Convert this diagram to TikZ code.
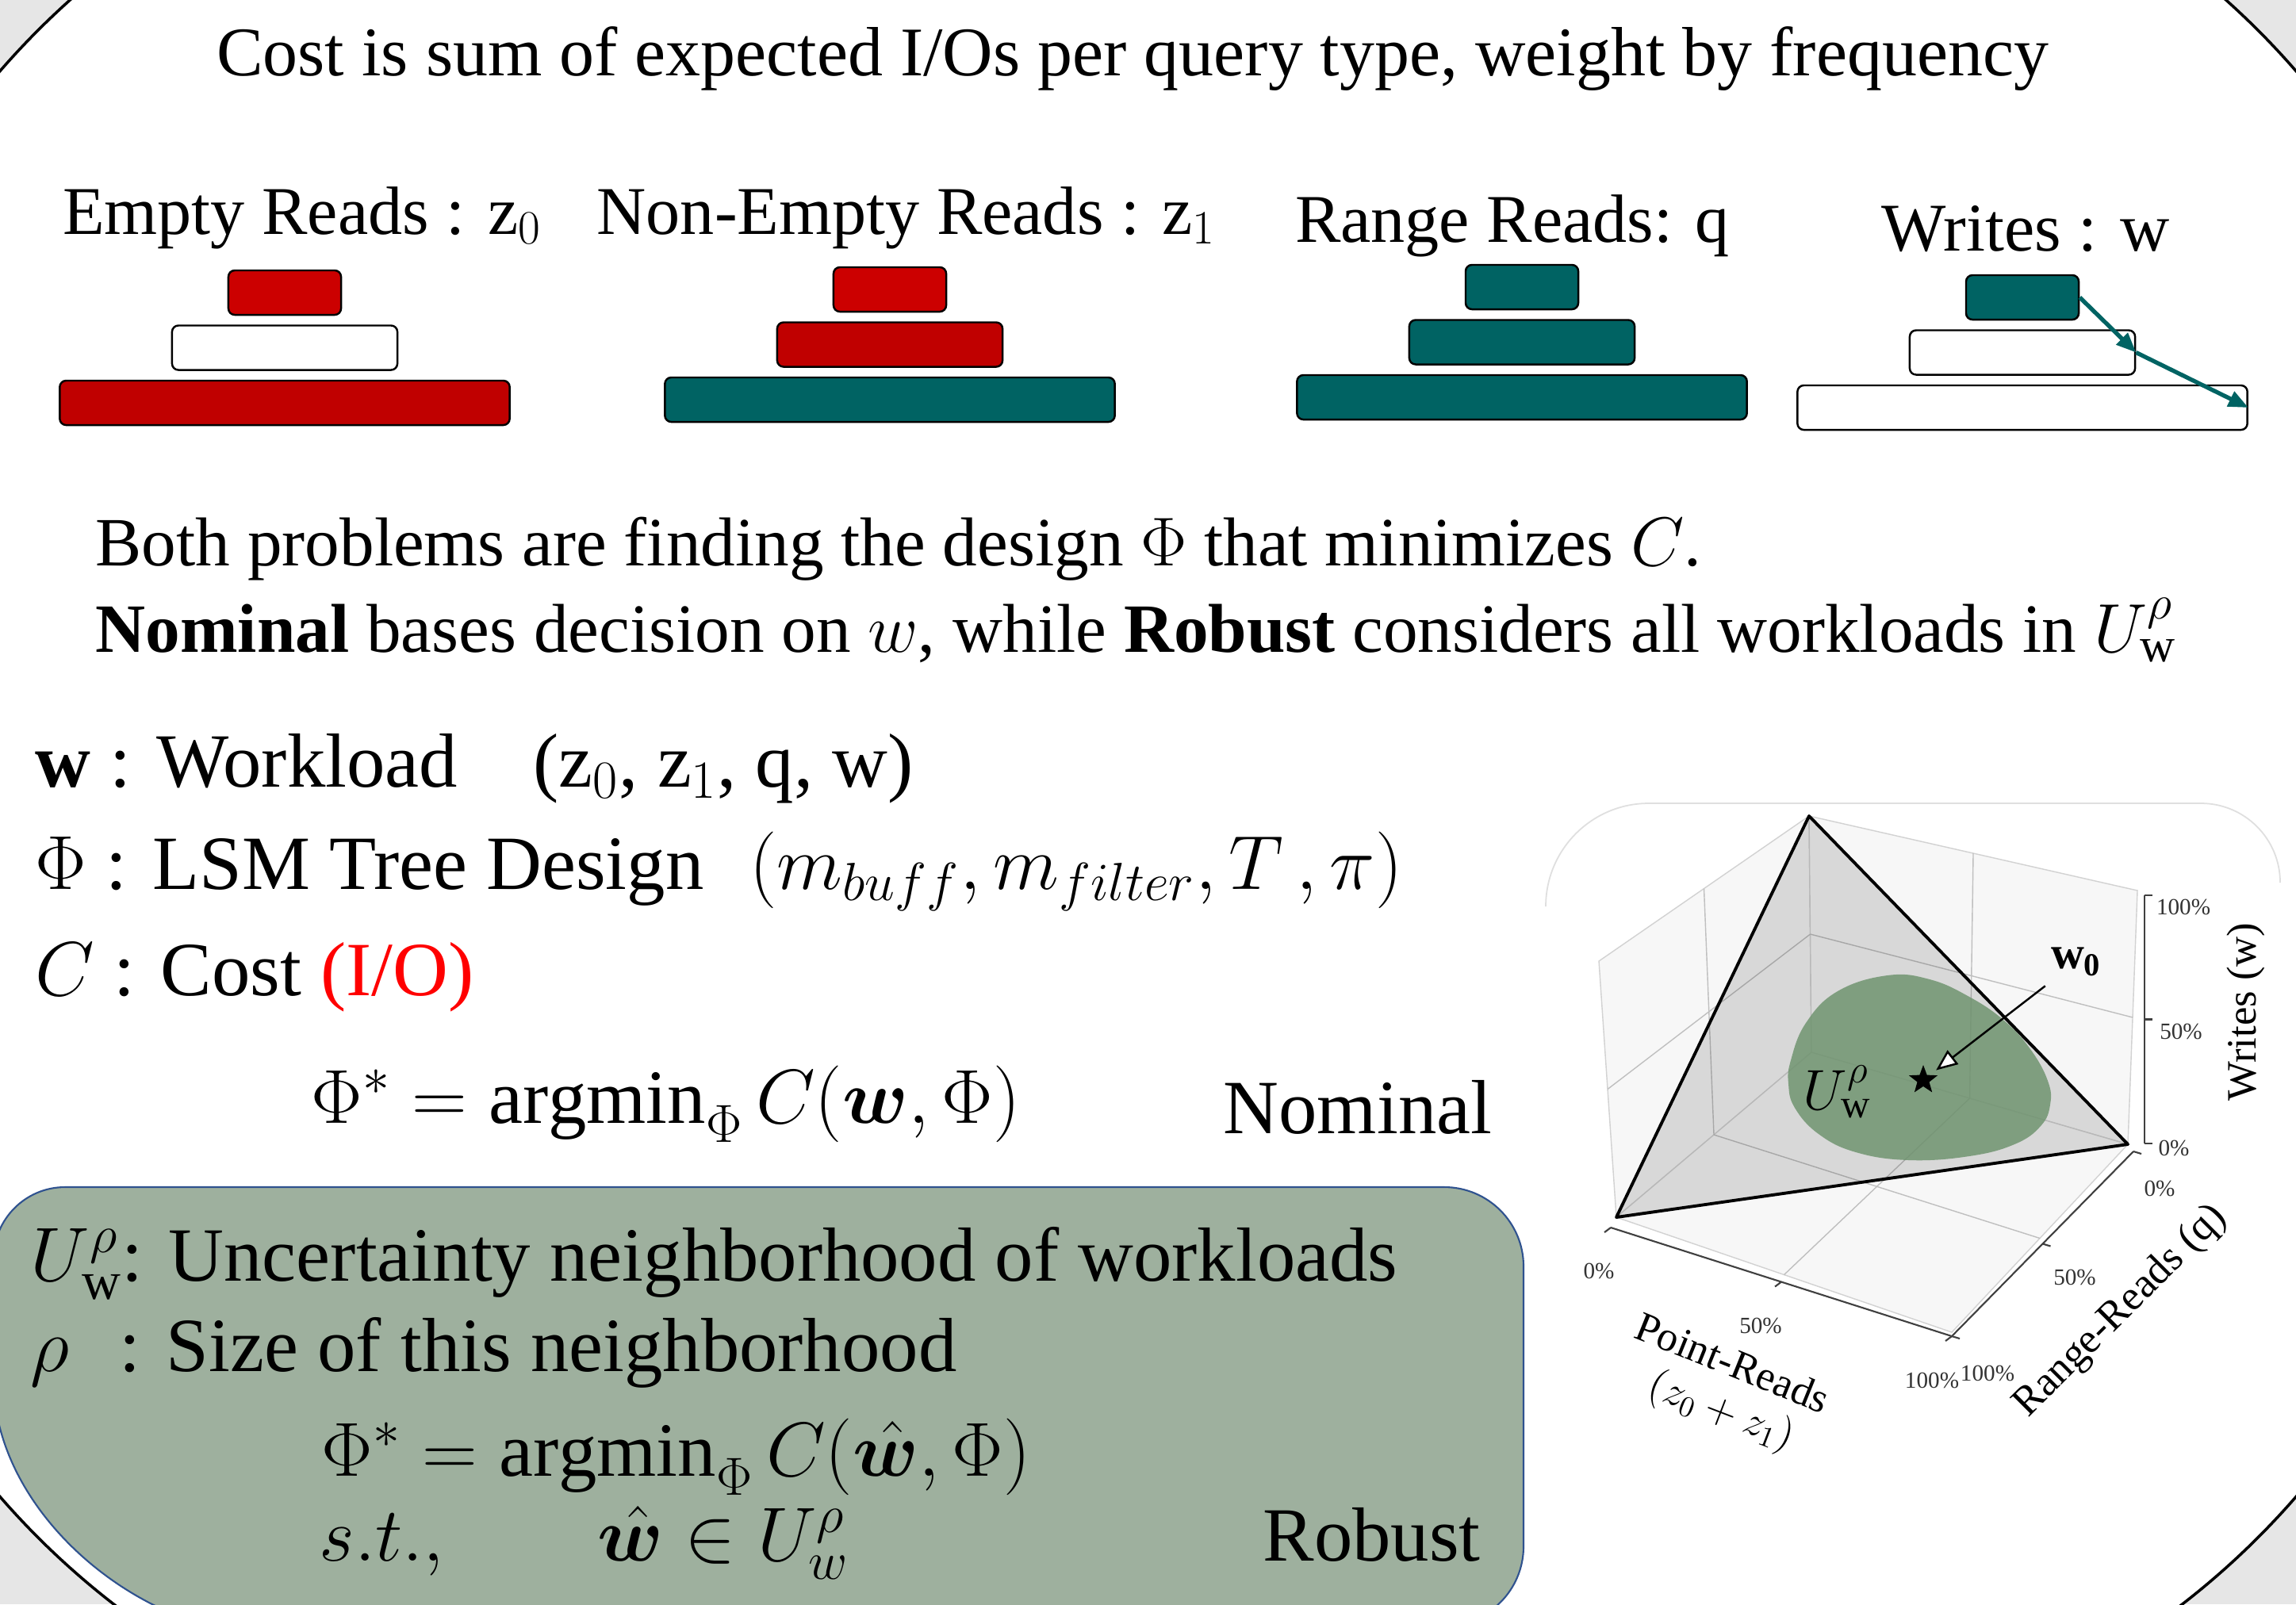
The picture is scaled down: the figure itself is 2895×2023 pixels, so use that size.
\RequirePackage{fix-cm}
\documentclass[tikz,border=0pt]{standalone}
\usepackage{fontspec}
\setmainfont{Liberation Serif}
\usepackage{amsmath,bm}
\usetikzlibrary{positioning,calc,arrows.meta,shapes.geometric}

\definecolor{bggray}{RGB}{230,230,230}
\definecolor{redtop}{RGB}{204,0,0}
\definecolor{reddark}{RGB}{192,0,0}
\definecolor{lsmteal}{RGB}{0,99,99}
\definecolor{boxgreen}{RGB}{158,176,158}
\definecolor{boxedge}{RGB}{47,82,143}
\definecolor{blobgreen}{RGB}{112,148,112}

\newcommand{\titlesz}{\fontsize{25}{30}\selectfont}
\newcommand{\labsz}{\fontsize{24.5}{29}\selectfont}
\newcommand{\midsz}{\fontsize{24.8}{29}\selectfont}
\newcommand{\colsz}{\fontsize{27.5}{33}\selectfont}
\newcommand{\axsz}{\fontsize{15}{18}\selectfont}
\newcommand{\ticksz}{\fontsize{8.3}{10}\selectfont}

\tikzset{
  lvl/.style={draw=black, line width=0.7pt, rounded corners=0.08cm, inner sep=0pt, minimum height=0.56cm},
  lvlone/.style={lvl, minimum width=1.42cm},
  lvltwo/.style={lvl, minimum width=2.84cm},
  lvlthree/.style={lvl, minimum width=5.67cm},
  txt/.style={inner sep=0pt, anchor=base west},
  nbox/.style={fill=boxgreen, draw=boxedge, line width=0.6pt},
  pane/.style={fill=gray!6, draw=gray!35, line width=0.4pt},
  gridln/.style={gray!50, line width=0.4pt},
  axln/.style={black!75, line width=0.6pt},
  ticklbl/.style={font=\ticksz, inner sep=1pt, text=black!80},
  axlbl/.style={font=\axsz, inner sep=1pt},
  wrarrow/.style={lsmteal, line width=1.5pt, -{Triangle[length=0.25cm,width=0.2cm]}},
}

\begin{document}
\begin{tikzpicture}[x=0.01cm,y=0.01cm]
\useasboundingbox (0,0) rectangle (2895,-2023);
\fill[bggray] (0,0) rectangle (2895,-2023);
\begin{scope}
\clip (0,0) rectangle (2895,-2023);
\draw[fill=white, line width=1pt, rounded corners=10cm] (-245,255) rectangle (3140,-2232);

\node[font=\titlesz, anchor=base] (title) at (1428,-95) {Cost is sum of expected I/Os per query type, weight by frequency};

\node[font=\labsz, anchor=base] (lab1) at (381,-295) {Empty Reads : z$_0$};
\node[font=\labsz, anchor=base] (lab2) at (1143,-295) {Non-Empty Reads : z$_1$};
\node[font=\labsz, anchor=base] (lab3) at (1907,-305) {Range Reads: q};
\node[font=\labsz, anchor=base] (lab4) at (2554,-316) {Writes : w};

\node[lvlone, fill=redtop] (e1) at (359,-369) {};
\node[lvltwo, fill=white, below=0.11cm of e1] (e2) {};
\node[lvlthree, fill=reddark, below=0.11cm of e2] (e3) {};

\node[lvlone, fill=redtop] (n1) at (1122,-365) {};
\node[lvltwo, fill=reddark, below=0.11cm of n1] (n2) {};
\node[lvlthree, fill=lsmteal, below=0.11cm of n2] (n3) {};

\node[lvlone, fill=lsmteal] (r1) at (1919,-362) {};
\node[lvltwo, fill=lsmteal, below=0.11cm of r1] (r2) {};
\node[lvlthree, fill=lsmteal, below=0.11cm of r2] (r3) {};

\node[lvlone, fill=lsmteal] (w1) at (2550,-375) {};
\node[lvltwo, fill=white, below=0.11cm of w1] (w2) {};
\node[lvlthree, fill=white, below=0.11cm of w2] (w3) {};
\draw[wrarrow] (w1.east) -- (w2.east);
\draw[wrarrow] (w2.east) -- (w3.east);

\node[txt, font=\midsz] (both) at (120,-713) {Both problems are finding the design $\Phi$ that minimizes $C$.};
\node[txt, font=\midsz] (nomrob) at (120,-822) {\textbf{Nominal} bases decision on $w$, while \textbf{Robust} considers all workloads in $U_{\mathrm{w}}^{\rho}$};

\node[txt, font=\colsz] (wl) at (44,-992) {\textbf{w} : Workload};
\node[txt, font=\colsz] (wtup) at (672,-992) {(z$_0$, z$_1$, q, w)};
\node[txt, font=\colsz] (phil) at (44,-1121) {$\Phi$ : LSM Tree Design};
\node[txt, font=\colsz] (phitup) at (945,-1121) {$(m_{buff}, m_{filter}, T\,, \pi)$};
\node[txt, font=\colsz] (cl) at (44,-1255) {$C$ : Cost \textcolor{red}{(I/O)}};
\node[txt, font=\colsz] (nomeq) at (392,-1416) {$\Phi^{*} = \operatorname{argmin}_{\Phi} C(\bm{w},\Phi)$};
\node[txt, font=\colsz] (nom) at (1542,-1429) {Nominal};

\draw[nbox] (-8,-1740) -- (-8,-1587) arc[start angle=180, end angle=90, radius=90]
  -- (1821,-1497) arc[start angle=90, end angle=0, radius=100]
  -- (1921,-1950) arc[start angle=0, end angle=-90, radius=100]
  -- (260,-2050) .. controls (120,-2010) and (-8,-1880) .. cycle;
\node[txt, font=\colsz] (ul) at (38,-1615) {$U_{\mathrm{w}}^{\rho}$: Uncertainty neighborhood of workloads};
\node[txt, font=\colsz] (rhol) at (38,-1729) {$\rho$};
\node[txt, font=\colsz] (rhot) at (150,-1729) {: Size of this neighborhood};
\node[txt, font=\colsz] (robeq) at (405,-1861) {$\Phi^{*} = \operatorname{argmin}_{\Phi} C(\hat{\bm{w}},\Phi)$};
\node[txt, font=\colsz] (st) at (402,-1968) {$s.t.,$};
\node[txt, font=\colsz] (inu) at (753,-1968) {$\hat{\bm{w}} \in U_{w}^{\rho}$};
\node[txt, font=\colsz] (rob) at (1592,-1968) {Robust};

\draw[gray!25, line width=0.5pt] (1949,-1143) arc[start angle=180, end angle=90, radius=130]
  -- (2775,-1013) arc[start angle=90, end angle=0, radius=100];

\coordinate (B0) at (2284,-1327);
\coordinate (L0) at (2038,-1535);
\coordinate (R0) at (2683,-1443);
\coordinate (F0) at (2461,-1680);
\coordinate (BT) at (2281,-1029);
\coordinate (LT) at (2016,-1212);
\coordinate (RT) at (2695,-1123);
\filldraw[pane] (B0) -- (BT) -- (LT) -- (L0) -- cycle;
\filldraw[pane] (B0) -- (BT) -- (RT) -- (R0) -- cycle;
\filldraw[pane] (B0) -- (L0) -- (F0) -- (R0) -- cycle;
\draw[gridln] ($(B0)!.5!(BT)$) -- ($(L0)!.5!(LT)$);
\draw[gridln] ($(B0)!.5!(L0)$) -- ($(BT)!.5!(LT)$);
\draw[gridln] ($(B0)!.5!(BT)$) -- ($(R0)!.5!(RT)$);
\draw[gridln] ($(B0)!.5!(R0)$) -- ($(BT)!.5!(RT)$);
\draw[gridln] ($(B0)!.5!(R0)$) -- ($(L0)!.5!(F0)$);
\draw[gridln] ($(B0)!.5!(L0)$) -- ($(R0)!.5!(F0)$);

\fill[black, opacity=.12] (BT) -- (L0) -- (R0) -- cycle;
\fill[blobgreen, opacity=.85] plot[smooth cycle, tension=0.7] coordinates {
  (2380,-1230) (2433,-1235) (2483,-1257) (2527,-1287) (2560,-1323) (2582,-1363)
  (2585,-1393) (2573,-1420) (2540,-1443) (2483,-1458) (2407,-1463) (2340,-1453)
  (2293,-1430) (2263,-1397) (2255,-1367) (2258,-1337) (2277,-1290) (2317,-1250)};
\draw[line width=1.1pt, line join=round] (BT) -- (L0) -- (R0) -- cycle;

\coordinate (PA0) at (2031,-1548);
\coordinate (PA1) at (2461,-1685);
\coordinate (RA0) at (2690,-1452);
\coordinate (WA0) at (2704,-1442);
\coordinate (WA1) at (2704,-1129);
\draw[axln] (PA0) -- (PA1) -- (RA0);
\draw[axln] (WA0) -- (WA1);
\foreach \t in {0,0.5,1} {
  \draw[axln] ($(PA0)!\t!(PA1)$) -- ++(-8,-6);
  \draw[axln] ($(PA1)!\t!(RA0)$) -- ++(10,-3);
  \draw[axln] ($(WA0)!\t!(WA1)$) -- ++(10,0);
}
\node[ticklbl] (p0) at (2016,-1603) {0\%};
\node[ticklbl] (p50) at (2220,-1672) {50\%};
\node[ticklbl] (p100) at (2436,-1741) {100\%};
\node[ticklbl] (q0) at (2723,-1499) {0\%};
\node[ticklbl] (q50) at (2616,-1611) {50\%};
\node[ticklbl] (q100) at (2506,-1732) {100\%};
\node[ticklbl] (w100) at (2753,-1144) {100\%};
\node[ticklbl] (w50) at (2750,-1301) {50\%};
\node[ticklbl] (w0) at (2741,-1448) {0\%};
\node[axlbl, rotate=-22] (ptlbl) at (2185,-1718) {Point-Reads};
\node[axlbl, rotate=-21] (ptsub) at (2170,-1781) {$(z_0+z_1)$};
\node[axlbl, rotate=45] (rglbl) at (2674,-1654) {Range-Reads (q)};
\node[axlbl, rotate=90] (wrlbl) at (2832,-1276) {Writes (w)};

\node[font=\fontsize{20.5}{24}\selectfont] (ulbl) at (2317,-1377) {$U_{\mathrm{w}}^{\rho}$};
\node[star, star points=5, star point ratio=2.4, fill=black, inner sep=0pt, minimum size=0.38cm] (wstar) at (2425,-1362) {};
\node[font=\fontsize{16.5}{20}\selectfont] (wzero) at (2618,-1213) {$\mathbf{w}_{\mathbf{0}}$};
\draw[line width=0.7pt, -{Triangle[fill=white, length=0.27cm, width=0.22cm]}, shorten >=0.09cm] (wzero) -- (wstar);
\end{scope}
\end{tikzpicture}
\end{document}
